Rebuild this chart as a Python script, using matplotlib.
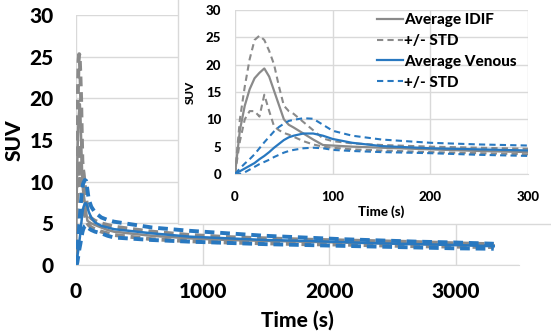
import matplotlib.pyplot as plt
from matplotlib.patches import Rectangle

plt.rcParams['font.family'] = ['Lato', 'DejaVu Sans']
plt.rcParams['font.weight'] = 'black'
plt.rcParams['axes.labelweight'] = 'black'

# frame mid-times (s)
time = [0, 5, 10, 15, 20, 25, 30, 35, 40, 45, 50, 55, 60, 70, 80, 90, 100,
        120, 150, 200, 250, 300, 600, 900, 1200, 1500, 1800, 2100, 2400,
        2700, 3000, 3300]

idif_mean = [0, 8, 12.5, 15.5, 17.5, 18.5, 19.3, 17.8, 15.2, 12.6, 10.0, 9.0,
             8.5, 7.4, 6.3, 5.3, 5.2, 5.0, 4.8, 4.5, 4.2, 4.0, 3.5, 3.2, 3.0,
             2.9, 2.8, 2.7, 2.6, 2.5, 2.4, 2.35]
idif_hi = [0, 10, 16, 21, 24.5, 25.3, 24.5, 22.5, 20, 16, 12.5, 11.5, 11.0,
           9.5, 8.0, 6.5, 6.0, 5.6, 5.3, 5.0, 4.8, 4.6, 4.0, 3.6, 3.35, 3.2,
           3.05, 2.95, 2.85, 2.75, 2.6, 2.5]
idif_lo = [0, 6, 10, 11.5, 11.5, 10.5, 14.5, 11.5, 8.7, 8.0, 7.5, 7.2, 6.8,
           6.0, 5.4, 5.0, 4.8, 4.5, 4.3, 4.0, 3.8, 3.6, 3.1, 2.85, 2.7, 2.6,
           2.5, 2.45, 2.35, 2.25, 2.2, 2.15]

ven_mean = [0, 0.5, 1.0, 1.5, 2.0, 2.7, 3.3, 4.0, 4.8, 5.5, 6.2, 6.7, 7.0,
            7.4, 7.4, 7.0, 6.4, 5.7, 5.1, 4.7, 4.5, 4.3, 3.8, 3.4, 3.2, 3.0,
            2.9, 2.75, 2.6, 2.5, 2.4, 2.25]
ven_hi = [0, 1.0, 1.9, 2.7, 3.6, 4.7, 5.8, 6.8, 7.8, 8.6, 9.2, 9.7, 9.9,
          10.2, 10.1, 9.0, 7.9, 7.0, 6.3, 5.7, 5.4, 5.2, 4.5, 4.1, 3.8, 3.5,
          3.3, 3.1, 2.95, 2.8, 2.7, 2.55]
ven_lo = [0, 0, 0.3, 0.8, 1.3, 1.8, 2.2, 2.6, 3.1, 3.5, 3.9, 4.2, 4.4, 4.7,
          4.8, 4.7, 4.4, 4.2, 4.0, 3.8, 3.5, 3.3, 3.0, 2.8, 2.65, 2.5, 2.4,
          2.3, 2.2, 2.1, 2.0, 1.95]

gray = '#8a8a8a'
blue = '#2878c0'
grid = '#d9d9d9'


def draw(ax, lw, dlw, dash):
    ax.plot(time, idif_mean, color=gray, lw=lw, label='Average IDIF')
    ax.plot(time, idif_hi, color=gray, lw=dlw, dashes=dash, label='+/- STD')
    ax.plot(time, idif_lo, color=gray, lw=dlw, dashes=dash)
    ax.plot(time, ven_mean, color=blue, lw=lw, label='Average Venous')
    ax.plot(time, ven_hi, color=blue, lw=dlw, dashes=dash, label='+/- STD')
    ax.plot(time, ven_lo, color=blue, lw=dlw, dashes=dash)
    ax.grid(True, color=grid, lw=1)
    ax.set_axisbelow(True)
    for s in ['top', 'right', 'left']:
        ax.spines[s].set_visible(False)
    ax.spines['bottom'].set_color(grid)
    ax.tick_params(length=0)


fig = plt.figure(figsize=(5.51, 3.32), dpi=100)

ax = fig.add_axes([0.138, 0.2018, 0.804, 0.753])
draw(ax, 1.8, 2.8, (2.5, 1.5))
ax.set_xlim(0, 3500)
ax.set_ylim(0, 30)
ax.set_xticks([0, 1000, 2000, 3000])
ax.set_yticks(range(0, 31, 5))
ax.tick_params(axis='y', pad=16, labelsize=15)
ax.tick_params(axis='x', pad=12, labelsize=15)
ax.set_xlabel('Time (s)', fontsize=15, labelpad=7)
ax.set_ylabel('SUV', fontsize=15, labelpad=4)

# white panel behind the inset
fig.patches.append(Rectangle((0.323, 0.325), 0.7, 0.7, transform=fig.transFigure,
                             facecolor='white', edgecolor=grid, lw=1, zorder=1))

ins = fig.add_axes([0.4265, 0.476, 0.532, 0.494])
ins.set_zorder(3)
ins.set_facecolor('none')
draw(ins, 1.6, 1.5, (3, 2))
ins.set_xlim(0, 300)
ins.set_ylim(0, 30)
ins.set_xticks([0, 100, 200, 300])
ins.set_yticks(range(0, 31, 5))
ins.tick_params(axis='y', pad=10, labelsize=9.5)
ins.tick_params(axis='x', pad=12, labelsize=9.5)
ins.set_xlabel('Time (s)', fontsize=9.5, labelpad=2)
ins.set_ylabel('SUV', fontsize=8.5, labelpad=7)
ins.legend(loc='upper left', bbox_to_anchor=(377 / 551, 1 - 13 / 332),
           bbox_transform=fig.transFigure, frameon=False, fontsize=11,
           handlelength=1.7, handletextpad=0.1, labelspacing=0.45,
           borderpad=0, borderaxespad=0)

fig.savefig('out.png', dpi=100)
